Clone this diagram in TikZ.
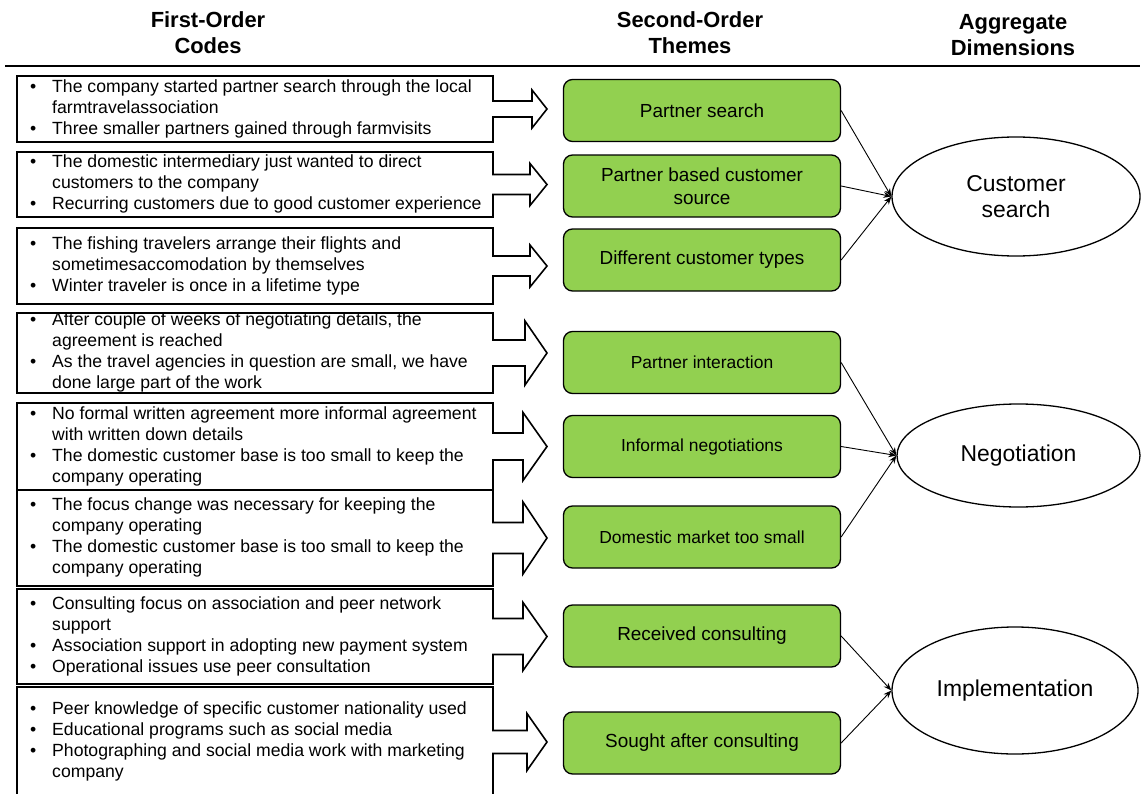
\documentclass[tikz,border=0pt]{standalone}
\usepackage{fontspec}
\setmainfont{Liberation Sans}
\usetikzlibrary{shapes.geometric,arrows.meta}
\definecolor{themegreen}{HTML}{92D050}

% one first-order box whose right side turns into a block arrow
% #1 top, #2 bottom, #3 shaft half height, #4 head half height,
% #5 x of the arrow head base, #6 node name, #7 bullet lines
\newcommand\codebox[7]{%
  \pgfmathsetmacro\cbmid{(#1+#2)/2}%
  \draw[codeline] (17,#1) -- (493,#1) -- (493,\cbmid-#3) -- (#5,\cbmid-#3)
    -- (#5,\cbmid-#4) -- (547,\cbmid) -- (#5,\cbmid+#4) -- (#5,\cbmid+#3)
    -- (493,\cbmid+#3) -- (493,#2) -- (17,#2) -- cycle;
  \node[codetext] (#6) at (30,\cbmid) {\begin{tabular}{@{}l@{}l@{}}#7\end{tabular}};
}
\newcommand\bul{\makebox[22bp][l]{•}}

\begin{document}
\begin{tikzpicture}[x=1bp,y=-1bp,
  codeline/.style={line width=1.6bp,line join=miter},
  codetext/.style={anchor=west,inner sep=0pt,font=\fontsize{17.7}{21}\selectfont},
  theme/.style={rectangle,rounded corners=9bp,draw,line width=1.3bp,fill=themegreen,
    minimum width=277bp,minimum height=62bp,align=center,inner sep=2bp,
    font=\fontsize{19}{23}\selectfont},
  themesmall/.style={theme,font=\fontsize{17.5}{21}\selectfont},
  dimension/.style={ellipse,draw,line width=1.3bp,align=center,inner sep=0pt,
    font=\fontsize{23}{26}\selectfont},
  heading/.style={align=center,inner sep=0pt,font=\bfseries\fontsize{22}{26}\selectfont},
  link/.style={line width=0.9bp,-{Stealth[length=8bp,width=6bp]}}]

\clip (0,0) rectangle (1142,794);

% column headings and rule
\node[heading] (h1) at (208,33) {First-Order\\Codes};
\node[heading] (h2) at (690,33) {Second-Order\\Themes};
\node[heading] (h3) at (1013,35) {Aggregate\\Dimensions};
\draw[line width=2.5bp] (5,66) -- (1140,66);

% first-order codes
\codebox{76}{142}{8}{19}{532}{c1}{%
  \bul & The company started partner search through the local\\
       & farmtravelassociation\\
  \bul & Three smaller partners gained through farmvisits}
\codebox{152}{217}{10}{21}{530}{c2}{%
  \bul & The domestic intermediary just wanted to direct\\
       & customers to the company\\
  \bul & Recurring customers due to good customer experience}
\codebox{228}{304}{10}{21}{530}{c3}{%
  \bul & The fishing travelers arrange their flights and\\
       & sometimesaccomodation by themselves\\
  \bul & Winter traveler is once in a lifetime type}
\codebox{313}{393}{13}{32}{525}{c4}{%
  \bul & After couple of weeks of negotiating details, the\\
       & agreement is reached\\
  \bul & As the travel agencies in question are small, we have\\
       & done large part of the work}
\codebox{403}{490}{13.5}{34}{523}{c5}{%
  \bul & No formal written agreement more informal agreement\\
       & with written down details\\
  \bul & The domestic customer base is too small to keep the\\
       & company operating}
\codebox{490}{586}{15.5}{36}{523}{c6}{%
  \bul & The focus change was necessary for keeping the\\
       & company operating\\
  \bul & The domestic customer base is too small to keep the\\
       & company operating}
\codebox{589}{684}{18}{34}{523}{c7}{%
  \bul & Consulting focus on association and peer network\\
       & support\\
  \bul & Association support in adopting new payment system\\
  \bul & Operational issues use peer consultation}
\codebox{687}{797}{11.5}{28.5}{527}{c8}{%
  \bul & Peer knowledge of specific customer nationality used\\
  \bul & Educational programs such as social media\\
  \bul & Photographing and social media work with marketing\\
       & company}

% second-order themes
\node[theme] (t1) at (702,110.5) {Partner search};
\node[theme] (t2) at (702,186) {Partner based customer\\source};
\node[theme] (t3) at (702,260) {Different customer types};
\node[themesmall] (t4) at (702,362.5) {Partner interaction};
\node[themesmall] (t5) at (702,446.5) {Informal negotiations};
\node[themesmall] (t6) at (702,537) {Domestic market too small};
\node[theme] (t7) at (702,636) {Received consulting};
\node[theme] (t8) at (702,743) {Sought after consulting};

% aggregate dimensions
\node[dimension,minimum width=248bp,minimum height=119bp] (d1) at (1016,196.5) {Customer\\search};
\node[dimension,minimum width=243bp,minimum height=103bp] (d2) at (1018.5,455.5) {Negotiation};
\node[dimension,minimum width=246bp,minimum height=127bp] (d3) at (1015,690.5) {Implementation};

% theme to dimension links
\draw[link] (t1.east) -- (d1.west);
\draw[link] (t2.east) -- (d1.west);
\draw[link] (t3.east) -- (d1.west);
\draw[link] (t4.east) -- (d2.west);
\draw[link] (t5.east) -- (d2.west);
\draw[link] (t6.east) -- (d2.west);
\draw[link] (t7.east) -- (d3.west);
\draw[link] (t8.east) -- (d3.west);
\end{tikzpicture}
\end{document}
